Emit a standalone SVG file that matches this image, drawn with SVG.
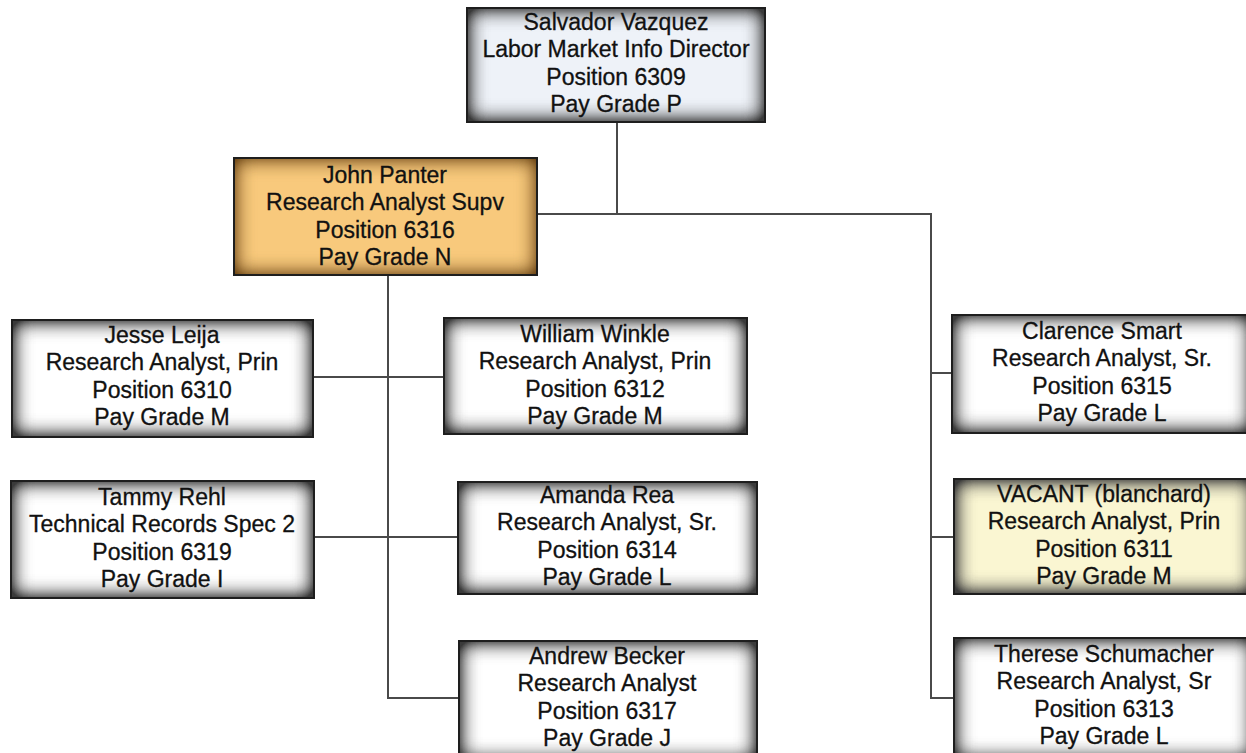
<svg xmlns="http://www.w3.org/2000/svg" width="1246" height="753" viewBox="0 0 1246 753">
  <defs>
    <!-- inner vignette along each box edge -->
    <filter id="inset" x="-40%" y="-60%" width="180%" height="220%" color-interpolation-filters="sRGB">
      <feFlood flood-color="#3a3a3a" flood-opacity="1" result="c"/>
      <feComposite in="c" in2="SourceAlpha" operator="out" result="outside"/>
      <feGaussianBlur in="outside" stdDeviation="10" result="blur"/>
      <feComponentTransfer in="blur" result="strong">
        <feFuncA type="linear" slope="1.7" intercept="0"/>
      </feComponentTransfer>
      <feComposite in="strong" in2="SourceAlpha" operator="in" result="shade"/>
      <feMerge>
        <feMergeNode in="SourceGraphic"/>
        <feMergeNode in="shade"/>
      </feMerge>
    </filter>
    <filter id="inset-warm" x="-40%" y="-60%" width="180%" height="220%" color-interpolation-filters="sRGB">
      <feFlood flood-color="#6a4414" flood-opacity="1" result="c"/>
      <feComposite in="c" in2="SourceAlpha" operator="out" result="outside"/>
      <feGaussianBlur in="outside" stdDeviation="10" result="blur"/>
      <feComponentTransfer in="blur" result="strong">
        <feFuncA type="linear" slope="1.4" intercept="0"/>
      </feComponentTransfer>
      <feComposite in="strong" in2="SourceAlpha" operator="in" result="shade"/>
      <feMerge>
        <feMergeNode in="SourceGraphic"/>
        <feMergeNode in="shade"/>
      </feMerge>
    </filter>
  </defs>
  <style>
    .box { fill: #ffffff; }
    .frame { fill: none; stroke: #1e1e1e; stroke-width: 2; }
    .director { fill: #eef2f8; }
    .supv { fill: #f8c97c; }
    .vacant { fill: #faf6d2; }
    .label { font-family: "Liberation Sans", Arial, sans-serif; font-size: 23px; fill: #111; stroke: #111; stroke-width: 0.3; text-anchor: middle; }
    .link { fill: none; stroke: #4a4a4a; stroke-width: 2; }
  </style>

  <rect width="1246" height="753" fill="#ffffff"/>

  <g id="connectors">
    <path class="link" d="M617 122 V214"/>
    <path class="link" d="M537 214 H931 V698 H954"/>
    <path class="link" d="M931 373 H952"/>
    <path class="link" d="M931 537 H954"/>
    <path class="link" d="M388 275 V698 H459"/>
    <path class="link" d="M313 377 H444"/>
    <path class="link" d="M314 537 H458"/>
  </g>

  <g id="node-6309">
    <rect class="box director" filter="url(#inset)" x="467" y="8" width="298" height="114"/>
    <rect class="frame" x="467" y="8" width="298" height="114"/>
    <text class="label" x="616" y="30">Salvador Vazquez<tspan x="616" dy="27.3">Labor Market Info Director</tspan><tspan x="616" dy="27.3">Position 6309</tspan><tspan x="616" dy="27.3">Pay Grade P</tspan></text>
  </g>

  <g id="node-6316">
    <rect class="box supv" filter="url(#inset-warm)" x="234" y="158" width="303" height="117"/>
    <rect class="frame" x="234" y="158" width="303" height="117"/>
    <text class="label" x="385" y="183">John Panter<tspan x="385" dy="27.3">Research Analyst Supv</tspan><tspan x="385" dy="27.3">Position 6316</tspan><tspan x="385" dy="27.3">Pay Grade N</tspan></text>
  </g>

  <g id="node-6310">
    <rect class="box" filter="url(#inset)" x="12" y="320" width="301" height="117"/>
    <rect class="frame" x="12" y="320" width="301" height="117"/>
    <text class="label" x="162" y="343">Jesse Leija<tspan x="162" dy="27.3">Research Analyst, Prin</tspan><tspan x="162" dy="27.3">Position 6310</tspan><tspan x="162" dy="27.3">Pay Grade M</tspan></text>
  </g>

  <g id="node-6312">
    <rect class="box" filter="url(#inset)" x="444" y="318" width="303" height="116"/>
    <rect class="frame" x="444" y="318" width="303" height="116"/>
    <text class="label" x="595" y="342">William Winkle<tspan x="595" dy="27.3">Research Analyst, Prin</tspan><tspan x="595" dy="27.3">Position 6312</tspan><tspan x="595" dy="27.3">Pay Grade M</tspan></text>
  </g>

  <g id="node-6315">
    <rect class="box" filter="url(#inset)" x="952" y="315" width="300" height="118"/>
    <rect class="frame" x="952" y="315" width="300" height="118"/>
    <text class="label" x="1102" y="339">Clarence Smart<tspan x="1102" dy="27.3">Research Analyst, Sr.</tspan><tspan x="1102" dy="27.3">Position 6315</tspan><tspan x="1102" dy="27.3">Pay Grade L</tspan></text>
  </g>

  <g id="node-6319">
    <rect class="box" filter="url(#inset)" x="11" y="481" width="303" height="117"/>
    <rect class="frame" x="11" y="481" width="303" height="117"/>
    <text class="label" x="162" y="505">Tammy Rehl<tspan x="162" dy="27.3">Technical Records Spec 2</tspan><tspan x="162" dy="27.3">Position 6319</tspan><tspan x="162" dy="27.3">Pay Grade I</tspan></text>
  </g>

  <g id="node-6314">
    <rect class="box" filter="url(#inset)" x="458" y="482" width="299" height="112"/>
    <rect class="frame" x="458" y="482" width="299" height="112"/>
    <text class="label" x="607" y="503">Amanda Rea<tspan x="607" dy="27.3">Research Analyst, Sr.</tspan><tspan x="607" dy="27.3">Position 6314</tspan><tspan x="607" dy="27.3">Pay Grade L</tspan></text>
  </g>

  <g id="node-6311">
    <rect class="box vacant" filter="url(#inset)" x="954" y="479" width="300" height="115"/>
    <rect class="frame" x="954" y="479" width="300" height="115"/>
    <text class="label" x="1104" y="502">VACANT (blanchard)<tspan x="1104" dy="27.3">Research Analyst, Prin</tspan><tspan x="1104" dy="27.3">Position 6311</tspan><tspan x="1104" dy="27.3">Pay Grade M</tspan></text>
  </g>

  <g id="node-6317">
    <rect class="box" filter="url(#inset)" x="459" y="641" width="298" height="120"/>
    <rect class="frame" x="459" y="641" width="298" height="120"/>
    <text class="label" x="607" y="664">Andrew Becker<tspan x="607" dy="27.3">Research Analyst</tspan><tspan x="607" dy="27.3">Position 6317</tspan><tspan x="607" dy="27.3">Pay Grade J</tspan></text>
  </g>

  <g id="node-6313">
    <rect class="box" filter="url(#inset)" x="954" y="638" width="300" height="122"/>
    <rect class="frame" x="954" y="638" width="300" height="122"/>
    <text class="label" x="1104" y="662">Therese Schumacher<tspan x="1104" dy="27.3">Research Analyst, Sr</tspan><tspan x="1104" dy="27.3">Position 6313</tspan><tspan x="1104" dy="27.3">Pay Grade L</tspan></text>
  </g>
</svg>
